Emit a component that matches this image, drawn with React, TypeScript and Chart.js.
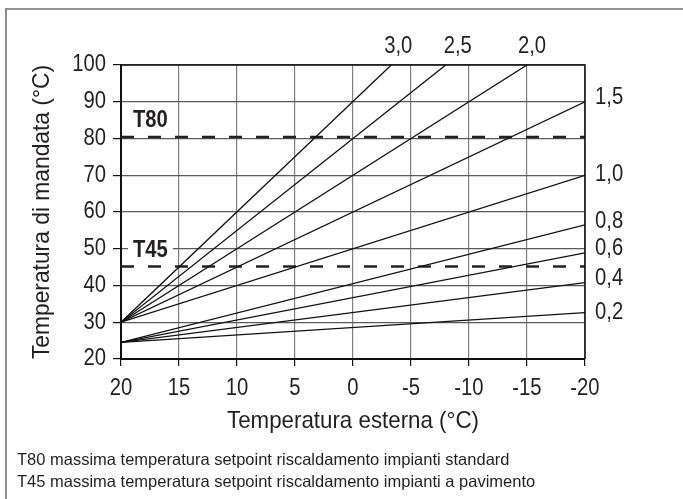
import React, { useEffect, useRef } from "react";
import { Chart, registerables } from "chart.js";

Chart.register(...registerables);

// ---- data ----
const xTickValues = [20, 15, 10, 5, 0, -5, -10, -15, -20];
const xTickLabels = ["20", "15", "10", "5", "0", "-5", "-10", "-15", "-20"];
const yTickValues = [20, 30, 40, 50, 60, 70, 80, 90, 100];
const yTickLabels = ["20", "30", "40", "50", "60", "70", "80", "90", "100"];

const curveNames = ["3,0", "2,5", "2,0", "1,5", "1,0", "0,8", "0,6", "0,4", "0,2"];
const curveStartT = [20, 20, 20, 20, 20, 20, 20, 20, 20];
const curveStartY = [30, 30, 30, 30, 30, 24.5, 24.5, 24.5, 24.5];
const curveEndT = [-3.3, -8, -15, -20, -20, -20, -20, -20, -20];
const curveEndY = [100, 100, 100, 90, 70, 56.5, 48.9, 40.8, 32.6];

const limitNames = ["T80", "T45"];
const limitValues = [80.4, 45.2];

const xTitle = "Temperatura esterna (°C)";
const yTitle = "Temperatura di mandata (°C)";
const notes = [
  "T80 massima temperatura setpoint riscaldamento impianti standard",
  "T45 massima temperatura setpoint riscaldamento impianti a pavimento",
];

// ---- styling ----
const FONT = "'Liberation Sans', Arial, Helvetica, sans-serif";
const TEXT = "#231f20";
const topLabelDx = [7, 12, 5];
const rightLabelDy = [-4, -1, -3, -4, -4, 0];

function drawText(ctx: any, text: string, x: number, y: number, font: string, align: string, sx: number) {
  ctx.save();
  ctx.font = font;
  ctx.textAlign = align;
  ctx.textBaseline = "middle";
  ctx.fillStyle = TEXT;
  ctx.translate(x, y);
  ctx.scale(sx, 1);
  ctx.fillText(text, 0, 0);
  ctx.restore();
}

const overlay = {
  id: "overlay",
  beforeDraw(chart: any) {
    const ctx = chart.ctx;
    ctx.save();
    ctx.strokeStyle = "#8f8f8f";
    ctx.lineWidth = 2;
    ctx.beginPath();
    ctx.moveTo(6, 499);
    ctx.lineTo(6, 9);
    ctx.lineTo(683, 9);
    ctx.stroke();
    ctx.restore();
  },
  afterDatasetsDraw(chart: any) {
    const ctx = chart.ctx;
    const { left, right, top, bottom } = chart.chartArea;
    const xs = chart.scales.x;
    const ys = chart.scales.y;
    ctx.save();
    ctx.strokeStyle = "#111";
    ctx.lineWidth = 1.5;
    ctx.beginPath();
    ctx.moveTo(left, top);
    ctx.lineTo(right, top);
    ctx.lineTo(right, bottom);
    ctx.stroke();
    ctx.restore();

    const tickFont = `23px ${FONT}`;
    // tick labels
    xTickValues.forEach((v, i) => {
      drawText(ctx, xTickLabels[i], xs.getPixelForValue(v), bottom + 30, tickFont, "center", 0.88);
    });
    yTickValues.forEach((v, i) => {
      drawText(ctx, yTickLabels[i], left - 15, ys.getPixelForValue(v), tickFont, "right", 0.88);
    });

    // curve labels
    for (let i = 0; i < 3; i++) {
      const px = xs.getPixelForValue(curveEndT[i]) + topLabelDx[i];
      drawText(ctx, curveNames[i], px, top - 18, tickFont, "center", 0.88);
    }
    for (let i = 3; i < curveNames.length; i++) {
      const py = ys.getPixelForValue(curveEndY[i]) + rightLabelDy[i - 3];
      drawText(ctx, curveNames[i], right + 10, py, tickFont, "left", 0.88);
    }

    // T80 / T45 labels
    const boldFont = `bold 23px ${FONT}`;
    for (let i = 0; i < limitNames.length; i++) {
      const py = ys.getPixelForValue(limitValues[i]) - 16;
      ctx.save();
      ctx.font = boldFont;
      const w = ctx.measureText(limitNames[i]).width * 0.88;
      ctx.fillStyle = "#fff";
      ctx.fillRect(left + 7, py - 11, w + 10, 22);
      ctx.restore();
      drawText(ctx, limitNames[i], left + 12, py, boldFont, "left", 0.88);
    }

    // axis titles
    const titleFont = `24px ${FONT}`;
    drawText(ctx, xTitle, (left + right) / 2, 421, titleFont, "center", 0.93);
    ctx.save();
    ctx.translate(42, (top + bottom) / 2);
    ctx.rotate(-Math.PI / 2);
    drawText(ctx, yTitle, 0, 0, titleFont, "center", 0.95);
    ctx.restore();

    // notes
    drawText(ctx, notes[0], 17, 460, `16.5px ${FONT}`, "left", 1);
    drawText(ctx, notes[1], 17, 482, `16.5px ${FONT}`, "left", 1);
  },
};

export default function App() {
  const ref = useRef<HTMLCanvasElement | null>(null);

  useEffect(() => {
    if (!ref.current) return;
    const datasets: any[] = curveNames.map((name, i) => ({
      label: name,
      data: [
        { x: curveStartT[i], y: curveStartY[i] },
        { x: curveEndT[i], y: curveEndY[i] },
      ],
      borderColor: "#111",
      borderWidth: 1.3,
      pointRadius: 0,
      fill: false,
      tension: 0,
    }));
    limitNames.forEach((name, i) => {
      datasets.push({
        label: name,
        data: [
          { x: 20, y: limitValues[i] },
          { x: -20, y: limitValues[i] },
        ],
        borderColor: "#222",
        borderWidth: 2.5,
        borderDash: [13, 14],
        pointRadius: 0,
        fill: false,
      });
    });

    const chart = new Chart(ref.current, {
      type: "line",
      data: { datasets },
      options: {
        animation: false,
        responsive: false,
        events: [],
        layout: { padding: { left: 0, top: 65, right: 98, bottom: 0 } },
        plugins: { legend: { display: false }, tooltip: { enabled: false } },
        scales: {
          x: {
            type: "linear",
            reverse: true,
            min: -20,
            max: 20,
            afterFit: (s: any) => {
              s.height = 140;
            },
            afterBuildTicks: (s: any) => {
              s.ticks = xTickValues.map((v) => ({ value: v }));
            },
            ticks: {
              callback: (v: any) => xTickLabels[xTickValues.indexOf(Number(v))] ?? "",
              font: { family: FONT, size: 21 },
              color: "rgba(0,0,0,0)",
              padding: 9,
              maxRotation: 0,
              autoSkip: false,
            },
            grid: { color: "#808080", lineWidth: 1.2, tickColor: "#111", tickLength: 7 },
            border: { color: "#111", width: 2 },
          },
          y: {
            type: "linear",
            min: 20,
            max: 100,
            afterFit: (s: any) => {
              s.width = 121;
            },
            afterBuildTicks: (s: any) => {
              s.ticks = yTickValues.map((v) => ({ value: v }));
            },
            ticks: {
              font: { family: FONT, size: 21 },
              color: "rgba(0,0,0,0)",
              padding: 7,
              autoSkip: false,
            },
            grid: { color: "#5a5a5a", lineWidth: 1.2, tickColor: "#111", tickLength: 8 },
            border: { color: "#111", width: 2 },
          },
        },
      },
      plugins: [overlay],
    } as any);
    return () => chart.destroy();
  }, []);

  return (
    <div style={{ position: "fixed", left: 0, top: 0, width: 683, height: 499, background: "#fff" }}>
      <canvas ref={ref} width={683} height={499} style={{ width: 683, height: 499, display: "block" }} />
    </div>
  );
}
